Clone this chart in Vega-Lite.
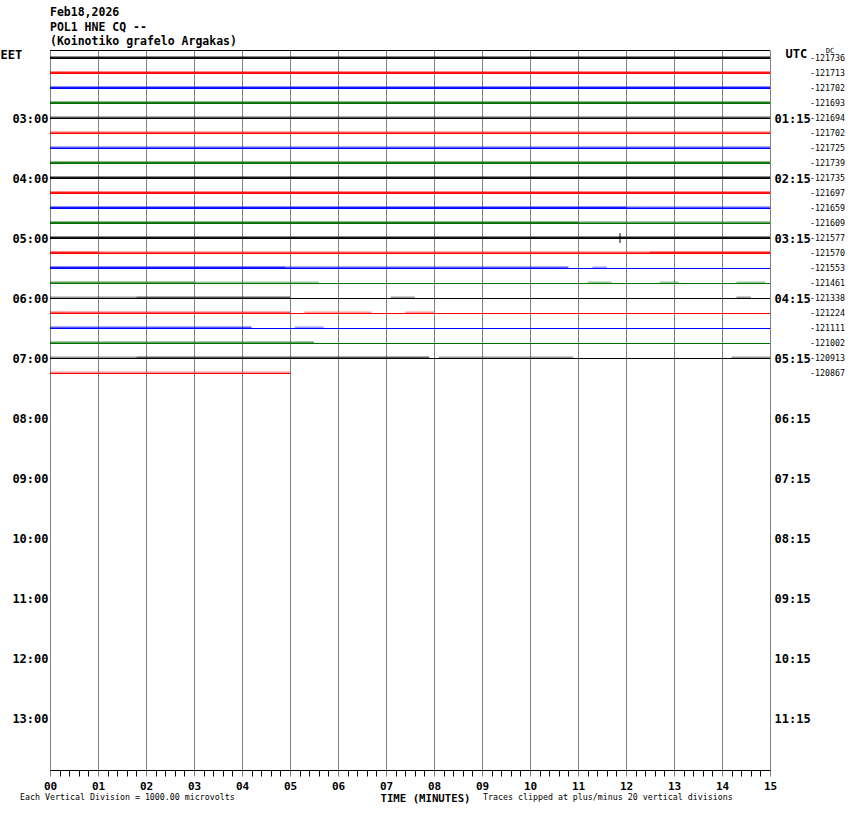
{
  "$schema": "https://vega.github.io/schema/vega-lite/v6.json",
  "width": 720,
  "height": 720,
  "autosize": {"type": "none"},
  "padding": {"left": 50, "top": 50, "right": 80, "bottom": 44},
  "background": "white",
  "config": {
    "view": {"stroke": null},
    "font": "DejaVu Sans Mono",
    "text": {"font": "DejaVu Sans Mono", "color": "black"}
  },
  "title": {
    "text": ["Feb18,2026", "POL1 HNE CQ --", "(Koinotiko grafelo Argakas)"],
    "anchor": "start",
    "frame": "group",
    "font": "DejaVu Sans Mono",
    "fontSize": 11.5,
    "fontWeight": "bold",
    "color": "black",
    "lineHeight": 14.5,
    "offset": -1
  },
  "datasets": {
    "traces": [
      {"row": 0, "t": 0, "s": 0, "e": 15, "label": "-121736"},
      {"row": 1, "t": 15, "s": 0, "e": 15, "label": "-121713"},
      {"row": 2, "t": 30, "s": 0, "e": 15, "label": "-121702"},
      {"row": 3, "t": 45, "s": 0, "e": 15, "label": "-121693"},
      {"row": 4, "t": 60, "s": 0, "e": 15, "label": "-121694"},
      {"row": 5, "t": 75, "s": 0, "e": 15, "label": "-121702"},
      {"row": 6, "t": 90, "s": 0, "e": 15, "label": "-121725"},
      {"row": 7, "t": 105, "s": 0, "e": 15, "label": "-121739"},
      {"row": 8, "t": 120, "s": 0, "e": 15, "label": "-121735"},
      {"row": 9, "t": 135, "s": 0, "e": 15, "label": "-121697"},
      {"row": 10, "t": 150, "s": 0, "e": 15, "label": "-121659"},
      {"row": 11, "t": 165, "s": 0, "e": 15, "label": "-121609"},
      {"row": 12, "t": 180, "s": 0, "e": 15, "label": "-121577"},
      {"row": 13, "t": 195, "s": 0, "e": 15, "label": "-121570"},
      {"row": 14, "t": 210, "s": 0, "e": 15, "label": "-121553"},
      {"row": 15, "t": 225, "s": 0, "e": 15, "label": "-121461"},
      {"row": 16, "t": 240, "s": 0, "e": 15, "label": "-121338"},
      {"row": 17, "t": 255, "s": 0, "e": 15, "label": "-121224"},
      {"row": 18, "t": 270, "s": 0, "e": 15, "label": "-121111"},
      {"row": 19, "t": 285, "s": 0, "e": 15, "label": "-121002"},
      {"row": 20, "t": 300, "s": 0, "e": 15, "label": "-120913"},
      {"row": 21, "t": 315, "s": 0, "e": 5, "label": "-120867"}
    ],
    "noise": [
      {"row": 0, "t": 0, "pk": -2, "a": 0, "b": 15, "d": 3},
      {"row": 1, "t": 15, "pk": 13, "a": 0, "b": 15, "d": 3},
      {"row": 2, "t": 30, "pk": 28, "a": 0, "b": 15, "d": 3},
      {"row": 3, "t": 45, "pk": 43, "a": 0, "b": 15, "d": 3},
      {"row": 4, "t": 60, "pk": 58, "a": 0, "b": 15, "d": 2},
      {"row": 5, "t": 75, "pk": 73, "a": 0, "b": 15, "d": 2},
      {"row": 6, "t": 90, "pk": 88, "a": 0, "b": 15, "d": 2},
      {"row": 7, "t": 105, "pk": 103, "a": 0, "b": 15, "d": 3},
      {"row": 8, "t": 120, "pk": 118, "a": 0, "b": 15, "d": 3},
      {"row": 9, "t": 135, "pk": 133, "a": 0, "b": 15, "d": 3},
      {"row": 10, "t": 150, "pk": 148, "a": 0, "b": 12, "d": 3},
      {"row": 10, "t": 150, "pk": 148, "a": 12, "b": 15, "d": 2},
      {"row": 11, "t": 165, "pk": 163, "a": 0, "b": 11, "d": 3},
      {"row": 11, "t": 165, "pk": 163, "a": 11, "b": 15, "d": 2},
      {"row": 12, "t": 180, "pk": 178, "a": 0, "b": 15, "d": 3},
      {"row": 13, "t": 195, "pk": 193, "a": 0, "b": 1, "d": 3},
      {"row": 13, "t": 195, "pk": 193, "a": 1, "b": 12.5, "d": 2},
      {"row": 13, "t": 195, "pk": 193, "a": 12.5, "b": 15, "d": 3},
      {"row": 14, "t": 210, "pk": 208, "a": 0, "b": 4.9, "d": 3},
      {"row": 14, "t": 210, "pk": 208, "a": 4.9, "b": 10.8, "d": 2},
      {"row": 14, "t": 210, "pk": 208, "a": 11.3, "b": 11.6, "d": 1},
      {"row": 15, "t": 225, "pk": 223, "a": 0, "b": 3, "d": 2},
      {"row": 15, "t": 225, "pk": 223, "a": 3, "b": 5.6, "d": 1},
      {"row": 15, "t": 225, "pk": 223, "a": 11.2, "b": 11.7, "d": 1},
      {"row": 15, "t": 225, "pk": 223, "a": 12.7, "b": 13.1, "d": 1},
      {"row": 15, "t": 225, "pk": 223, "a": 14.3, "b": 14.9, "d": 1},
      {"row": 16, "t": 240, "pk": 238, "a": 0, "b": 1.8, "d": 1},
      {"row": 16, "t": 240, "pk": 238, "a": 1.8, "b": 5, "d": 2},
      {"row": 16, "t": 240, "pk": 238, "a": 7.1, "b": 7.6, "d": 1},
      {"row": 16, "t": 240, "pk": 238, "a": 14.3, "b": 14.6, "d": 1},
      {"row": 17, "t": 255, "pk": 253, "a": 0, "b": 5, "d": 2},
      {"row": 17, "t": 255, "pk": 253, "a": 5.3, "b": 6.7, "d": 1},
      {"row": 17, "t": 255, "pk": 253, "a": 7.4, "b": 8, "d": 1},
      {"row": 18, "t": 270, "pk": 268, "a": 0, "b": 4.2, "d": 2},
      {"row": 18, "t": 270, "pk": 268, "a": 5.1, "b": 5.7, "d": 1},
      {"row": 19, "t": 285, "pk": 283, "a": 0, "b": 5.5, "d": 2},
      {"row": 20, "t": 300, "pk": 298, "a": 0, "b": 1.8, "d": 1},
      {"row": 20, "t": 300, "pk": 298, "a": 1.8, "b": 7.9, "d": 2},
      {"row": 20, "t": 300, "pk": 298, "a": 8.1, "b": 10.9, "d": 1},
      {"row": 20, "t": 300, "pk": 298, "a": 14.2, "b": 15, "d": 1},
      {"row": 21, "t": 315, "pk": 313, "a": 0, "b": 5, "d": 1}
    ],
    "spikes": [
      {"row": 12, "m": 11.875, "t1": 174.5, "t2": 184.5}
    ]
  },
  "layer": [
    {
      "layer": [
        {
          "data": {"name": "noise"},
          "mark": {"type": "rect"},
          "encoding": {
            "x": {
              "field": "a", "type": "quantitative",
              "scale": {"domain": [0, 15], "nice": false, "zero": false},
              "axis": {
                "values": [0,0.2,0.4,0.6,0.8,1,1.2,1.4,1.6,1.8,2,2.2,2.4,2.6,2.8,3,3.2,3.4,3.6,3.8,4,4.2,4.4,4.6,4.8,5,5.2,5.4,5.6,5.8,6,6.2,6.4,6.6,6.8,7,7.2,7.4,7.6,7.8,8,8.2,8.4,8.6,8.8,9,9.2,9.4,9.6,9.8,10,10.2,10.4,10.6,10.8,11,11.2,11.4,11.6,11.8,12,12.2,12.4,12.6,12.8,13,13.2,13.4,13.6,13.8,14,14.2,14.4,14.6,14.8,15],
                "tickCount": 200,
                "labelExpr": "abs(datum.value-round(datum.value))<0.01 ? (datum.value<9.5 ? '0' : '') + round(datum.value) : ''",
                "labelOverlap": false,
                "labelFlush": false,
                "labelBound": false,
                "labelFont": "DejaVu Sans Mono",
                "labelFontSize": 11,
                "labelFontWeight": "bold",
                "labelColor": "black",
                "labelPadding": 4,
                "grid": true,
                "gridColor": "#808080",
                "gridOpacity": {"condition": {"test": "abs(datum.value-round(datum.value))<0.01", "value": 1}, "value": 0},
                "tickColor": {"condition": {"test": "abs(datum.value-round(datum.value))<0.01", "value": "#808080"}, "value": "black"},
                "tickSize": 6,
                "domainColor": "black",
                "title": "TIME (MINUTES)",
                "titleFont": "DejaVu Sans Mono",
                "titleFontSize": 10.7,
                "titleFontWeight": "bold",
                "titleColor": "black",
                "titleX": 375,
                "titleY": 28,
                "titleBaseline": "middle",
                "titleAlign": "center"
              }
            },
            "x2": {"field": "b"},
            "y": {
              "field": "t", "type": "quantitative",
              "scale": {"domain": [-8.5, 711.5], "reverse": true, "nice": false, "zero": false},
              "axis": {
                "orient": "left",
                "values": [60,120,180,240,300,360,420,480,540,600,660],
                "tickCount": 50,
                "labelExpr": "(datum.value/60+2<10 ? '0' : '') + (datum.value/60+2) + ':00'",
                "domain": false,
                "ticks": false,
                "tickSize": 0,
                "grid": false,
                "labelFont": "DejaVu Sans Mono",
                "labelFontSize": 12,
                "labelFontWeight": "bold",
                "labelColor": "black",
                "labelPadding": 2,
                "title": "EET",
                "titleAngle": 0,
                "titleFont": "DejaVu Sans Mono",
                "titleFontSize": 12,
                "titleFontWeight": "bold",
                "titleColor": "black",
                "titleAlign": "left",
                "titleBaseline": "middle",
                "titleX": -50,
                "titleY": 4
              }
            },
            "y2": {"field": "pk"},
            "color": {
              "field": "row", "type": "ordinal", "legend": null,
              "scale": {
                "domain": [0,1,2,3,4,5,6,7,8,9,10,11,12,13,14,15,16,17,18,19,20,21],
                "range": ["#000000","#ff0000","#0000ff","#007000","#000000","#ff0000","#0000ff","#007000","#000000","#ff0000","#0000ff","#007000","#000000","#ff0000","#0000ff","#007000","#000000","#ff0000","#0000ff","#007000","#000000","#ff0000"]
              }
            },
            "opacity": {
              "field": "d", "type": "quantitative", "legend": null,
              "scale": {"domain": [1, 3], "range": [0.4, 0.9]}
            }
          }
        },
        {
          "data": {"name": "traces"},
          "mark": {"type": "rule", "strokeWidth": 1},
          "encoding": {
            "x": {"field": "s", "type": "quantitative"},
            "x2": {"field": "e"},
            "y": {"field": "t", "type": "quantitative"},
            "color": {"field": "row", "type": "ordinal", "legend": null}
          }
        },
        {
          "data": {"name": "spikes"},
          "mark": {"type": "rule", "strokeWidth": 1, "color": "black"},
          "encoding": {
            "x": {"field": "m", "type": "quantitative"},
            "y": {"field": "t1", "type": "quantitative"},
            "y2": {"field": "t2"}
          }
        },
        {
          "data": {"values": [{}]},
          "mark": {"type": "rule", "color": "black", "strokeWidth": 1},
          "encoding": {
            "x": {"datum": 0},
            "x2": {"datum": 15},
            "y": {"datum": -8}
          }
        },
        {
          "data": {"values": [{}]},
          "mark": {"type": "text", "text": "DC", "fontSize": 7, "align": "center", "baseline": "middle"},
          "encoding": {
            "x": {"datum": 16.25},
            "y": {"datum": -8}
          }
        },
        {
          "data": {"values": [{}]},
          "mark": {"type": "text", "text": "Each Vertical Division = 1000.00 microvolts", "fontSize": 8.3, "align": "left", "baseline": "middle"},
          "encoding": {
            "x": {"datum": -0.625},
            "y": {"datum": 739.5}
          }
        },
        {
          "data": {"values": [{}]},
          "mark": {"type": "text", "text": "Traces clipped at plus/minus 20 vertical divisions", "fontSize": 8.3, "align": "left", "baseline": "middle"},
          "encoding": {
            "x": {"datum": 9.02},
            "y": {"datum": 739.5}
          }
        }
      ]
    },
    {
      "data": {"name": "traces"},
      "mark": {"type": "text", "fontSize": 8.3, "align": "right", "baseline": "middle"},
      "encoding": {
        "x": {"datum": 16.5625},
        "y": {
          "field": "t", "type": "quantitative",
          "scale": {"domain": [-8.5, 711.5], "reverse": true, "nice": false, "zero": false},
          "axis": {
            "orient": "right",
            "values": [60,120,180,240,300,360,420,480,540,600,660],
            "tickCount": 50,
            "labelExpr": "(datum.value/60<10 ? '0' : '') + (datum.value/60) + ':15'",
            "domain": false,
            "ticks": false,
            "tickSize": 0,
            "grid": false,
            "labelFont": "DejaVu Sans Mono",
            "labelFontSize": 12,
            "labelFontWeight": "bold",
            "labelColor": "black",
            "labelPadding": 4,
            "title": "UTC",
            "titleAngle": 0,
            "titleFont": "DejaVu Sans Mono",
            "titleFontSize": 12,
            "titleFontWeight": "bold",
            "titleColor": "black",
            "titleAlign": "left",
            "titleBaseline": "middle",
            "titleX": 15,
            "titleY": 3.5
          }
        },
        "text": {"field": "label"}
      }
    }
  ],
  "resolve": {"scale": {"y": "independent"}}
}
